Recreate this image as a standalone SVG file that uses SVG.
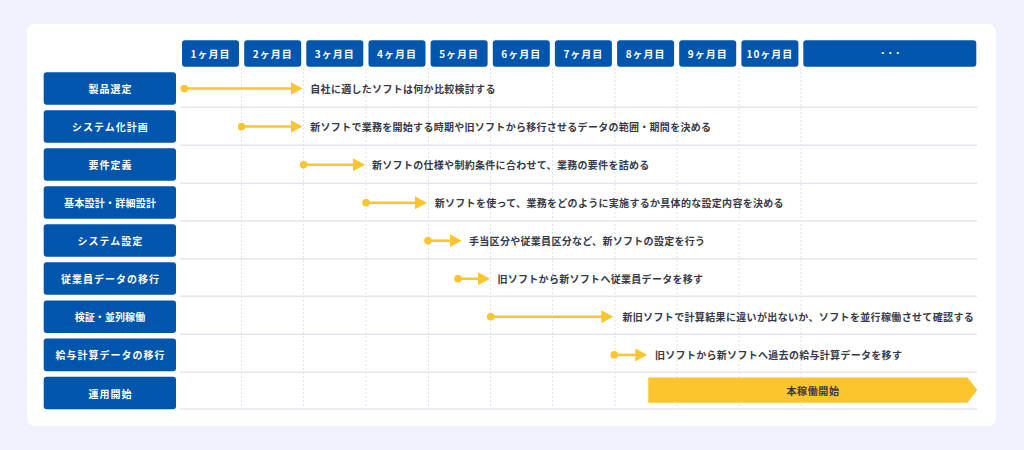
<svg xmlns="http://www.w3.org/2000/svg" width="1024" height="450" viewBox="0 0 1024 450">
<defs>
<style>
.hdr{fill:#0055ad}
.lbl{fill:#0055ad}
.ht{font-family:"Noto Sans CJK JP","Noto Sans",sans-serif;font-weight:700;font-size:10px;fill:#ffffff;letter-spacing:1px;text-anchor:middle;dominant-baseline:central}
.lt{font-family:"Noto Sans CJK JP","Noto Sans",sans-serif;font-weight:700;font-size:10px;fill:#ffffff;letter-spacing:1px;text-anchor:middle;dominant-baseline:central}
.dt{font-family:"Noto Sans CJK JP","Noto Sans",sans-serif;font-weight:700;font-size:10px;fill:#363a48;letter-spacing:0.3px;dominant-baseline:central}
.bt{font-family:"Noto Sans CJK JP","Noto Sans",sans-serif;font-weight:700;font-size:10px;fill:#363a48;letter-spacing:0.6px;text-anchor:middle;dominant-baseline:central}
.sep{stroke:#e4e6ee;stroke-width:1.5}
.vd{stroke:#dfe2ea;stroke-width:1;stroke-dasharray:2 2}
.ar{stroke:#fcc42d;stroke-width:2.5;fill:none;marker-start:url(#dot);marker-end:url(#head)}
</style>
<marker id="head" markerUnits="userSpaceOnUse" markerWidth="12" markerHeight="13" refX="2" refY="6.5" orient="auto" viewBox="0 0 12 13">
<path d="M0,0 L12,6.5 L0,13 Z" fill="#fcc42d"/>
</marker>
<marker id="dot" markerUnits="userSpaceOnUse" markerWidth="8" markerHeight="8" refX="4" refY="4" viewBox="0 0 8 8">
<circle cx="4" cy="4" r="3.8" fill="#fcc42d"/>
</marker>
</defs>
<rect x="0" y="0" width="1024" height="450" fill="#f0f3fc"/>
<rect x="27" y="24" width="969" height="402" rx="8" fill="#ffffff"/>

<g id="grid">
<line class="vd" x1="241.5" y1="68" x2="241.5" y2="409"/>
<line class="vd" x1="303.5" y1="68" x2="303.5" y2="409"/>
<line class="vd" x1="366" y1="68" x2="366" y2="409"/>
<line class="vd" x1="428.5" y1="68" x2="428.5" y2="409"/>
<line class="vd" x1="490.5" y1="68" x2="490.5" y2="409"/>
<line class="vd" x1="552.5" y1="68" x2="552.5" y2="409"/>
<line class="vd" x1="615" y1="68" x2="615" y2="409"/>
<line class="vd" x1="677" y1="68" x2="677" y2="409"/>
<line class="vd" x1="739" y1="68" x2="739" y2="409"/>
<line class="vd" x1="801" y1="68" x2="801" y2="409"/>
<line class="sep" x1="180" y1="107.3" x2="977" y2="107.3"/>
<line class="sep" x1="180" y1="145.3" x2="977" y2="145.3"/>
<line class="sep" x1="180" y1="183.3" x2="977" y2="183.3"/>
<line class="sep" x1="180" y1="221" x2="977" y2="221"/>
<line class="sep" x1="180" y1="258.7" x2="977" y2="258.7"/>
<line class="sep" x1="180" y1="296.3" x2="977" y2="296.3"/>
<line class="sep" x1="180" y1="334.3" x2="977" y2="334.3"/>
<line class="sep" x1="180" y1="372.3" x2="977" y2="372.3"/>
<line class="sep" x1="180" y1="409" x2="977" y2="409"/>
</g>

<g id="header">
<g id="m1"><rect class="hdr" x="182" y="40.3" width="57" height="26.5" rx="3"/><text class="ht" x="210.5" y="53.5">1ヶ月目</text></g>
<g id="m2"><rect class="hdr" x="244.2" y="40.3" width="57" height="26.5" rx="3"/><text class="ht" x="272.7" y="53.5">2ヶ月目</text></g>
<g id="m3"><rect class="hdr" x="306.3" y="40.3" width="57" height="26.5" rx="3"/><text class="ht" x="334.8" y="53.5">3ヶ月目</text></g>
<g id="m4"><rect class="hdr" x="368.5" y="40.3" width="57" height="26.5" rx="3"/><text class="ht" x="397" y="53.5">4ヶ月目</text></g>
<g id="m5"><rect class="hdr" x="430.6" y="40.3" width="57" height="26.5" rx="3"/><text class="ht" x="459.1" y="53.5">5ヶ月目</text></g>
<g id="m6"><rect class="hdr" x="492.8" y="40.3" width="57" height="26.5" rx="3"/><text class="ht" x="521.3" y="53.5">6ヶ月目</text></g>
<g id="m7"><rect class="hdr" x="554.9" y="40.3" width="57" height="26.5" rx="3"/><text class="ht" x="583.4" y="53.5">7ヶ月目</text></g>
<g id="m8"><rect class="hdr" x="617.1" y="40.3" width="57" height="26.5" rx="3"/><text class="ht" x="645.6" y="53.5">8ヶ月目</text></g>
<g id="m9"><rect class="hdr" x="679.2" y="40.3" width="57" height="26.5" rx="3"/><text class="ht" x="707.7" y="53.5">9ヶ月目</text></g>
<g id="m10"><rect class="hdr" x="741.4" y="40.3" width="57" height="26.5" rx="3"/><text class="ht" x="769.9" y="53.5">10ヶ月目</text></g>
<g id="mrest"><rect class="hdr" x="803.3" y="40.3" width="173" height="26.5" rx="3"/><text class="ht" x="890" y="52.5" style="font-size:8px;letter-spacing:-0.5px">・・・</text></g>
</g>

<g id="labels">
<g id="r1"><rect class="lbl" x="43.7" y="72.2" width="132.3" height="32.6" rx="3"/><text class="lt" x="110.4" y="88.5">製品選定</text></g>
<g id="r2"><rect class="lbl" x="43.7" y="110.2" width="132.3" height="32.6" rx="3"/><text class="lt" x="110.4" y="126.5">システム化計画</text></g>
<g id="r3"><rect class="lbl" x="43.7" y="148.2" width="132.3" height="32.6" rx="3"/><text class="lt" x="110.4" y="164.5">要件定義</text></g>
<g id="r4"><rect class="lbl" x="43.7" y="186.2" width="132.3" height="32.6" rx="3"/><text class="lt" x="110.4" y="202.5" textLength="93" lengthAdjust="spacing">基本設計・詳細設計</text></g>
<g id="r5"><rect class="lbl" x="43.7" y="224.2" width="132.3" height="32.6" rx="3"/><text class="lt" x="110.4" y="240.5">システム設定</text></g>
<g id="r6"><rect class="lbl" x="43.7" y="262.2" width="132.3" height="32.6" rx="3"/><text class="lt" x="110.4" y="278.5">従業員データの移行</text></g>
<g id="r7"><rect class="lbl" x="43.7" y="300.4" width="132.3" height="32.6" rx="3"/><text class="lt" x="110.4" y="316.7" textLength="71.5" lengthAdjust="spacing">検証・並列稼働</text></g>
<g id="r8"><rect class="lbl" x="43.7" y="338.6" width="132.3" height="32.6" rx="3"/><text class="lt" x="110.4" y="354.9">給与計算データの移行</text></g>
<g id="r9"><rect class="lbl" x="43.7" y="376.7" width="132.3" height="32.6" rx="3"/><text class="lt" x="110.4" y="393">運用開始</text></g>
</g>

<g id="connectors">
<line class="ar" x1="184.3" y1="88.5" x2="292.5" y2="88.5"/>
<line class="ar" x1="241.5" y1="126.6" x2="292.5" y2="126.6"/>
<line class="ar" x1="303.5" y1="164.7" x2="355" y2="164.7"/>
<line class="ar" x1="366" y1="202.7" x2="417" y2="202.7"/>
<line class="ar" x1="428" y1="240.7" x2="451.7" y2="240.7"/>
<line class="ar" x1="458" y1="278.7" x2="480" y2="278.7"/>
<line class="ar" x1="490.7" y1="316.7" x2="603.3" y2="316.7"/>
<line class="ar" x1="614.3" y1="354.9" x2="637.3" y2="354.9"/>
</g>

<g id="descriptions">
<text class="dt" x="310.3" y="88.5">自社に適したソフトは何か比較検討する</text>
<text class="dt" x="310.3" y="126.6" textLength="401" lengthAdjust="spacing">新ソフトで業務を開始する時期や旧ソフトから移行させるデータの範囲・期間を決める</text>
<text class="dt" x="372" y="164.7">新ソフトの仕様や制約条件に合わせて、業務の要件を詰める</text>
<text class="dt" x="434.7" y="202.7">新ソフトを使って、業務をどのように実施するか具体的な設定内容を決める</text>
<text class="dt" x="469" y="240.7">手当区分や従業員区分など、新ソフトの設定を行う</text>
<text class="dt" x="497.4" y="278.7">旧ソフトから新ソフトへ従業員データを移す</text>
<text class="dt" x="622.4" y="316.7" style="letter-spacing:0.35px">新旧ソフトで計算結果に違いが出ないか、ソフトを並行稼働させて確認する</text>
<text class="dt" x="655" y="354.9">旧ソフトから新ソフトへ過去の給与計算データを移す</text>
</g>

<g id="golive">
<path d="M648.3,377.5 L967.5,377.5 L977.3,390 L967.5,402.7 L648.3,402.7 Z" fill="#fcc42d"/>
<text class="bt" x="813" y="390">本稼働開始</text>
</g>
</svg>
